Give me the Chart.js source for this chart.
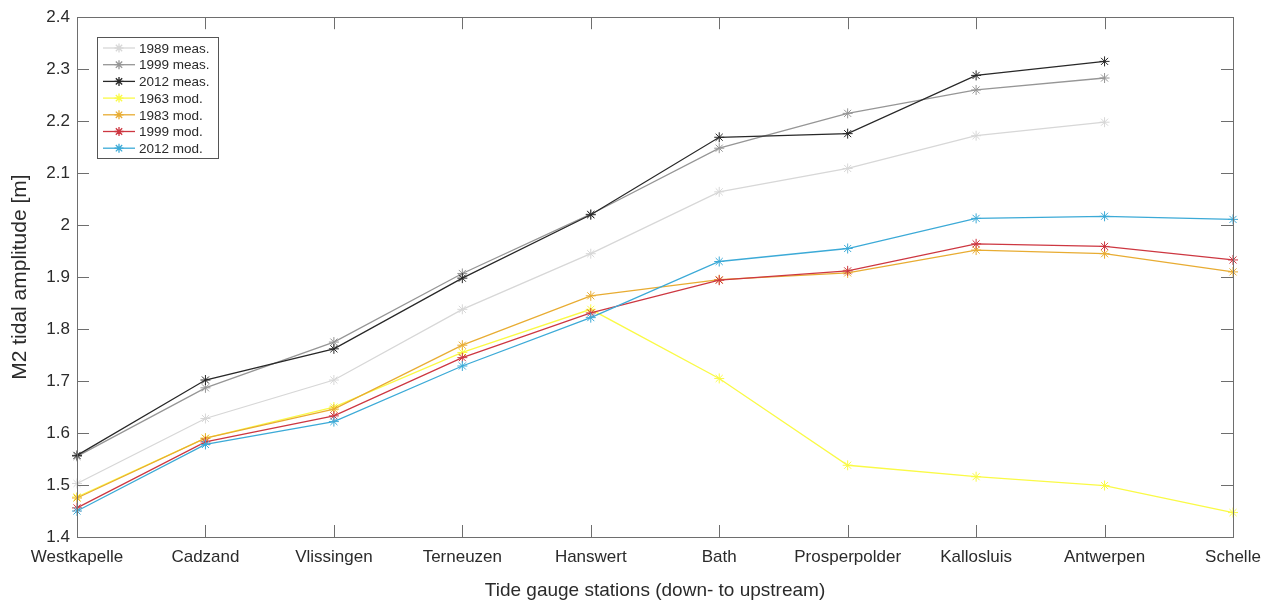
<!DOCTYPE html>
<html>
<head>
<meta charset="utf-8">
<script src="https://cdn.jsdelivr.net/npm/chart.js@4"></script>
<style>
  html, body { margin: 0; padding: 0; background: #fff; }
  #wrap { width: 1277px; height: 602px; }
</style>
</head>
<body>
<div id="wrap"><canvas id="tideChart"></canvas></div>
<script>
// Stationen (stroomafwaarts -> stroomopwaarts)
const stations = ["Westkapelle", "Cadzand", "Vlissingen", "Terneuzen", "Hanswert",
  "Bath", "Prosperpolder", "Kallosluis", "Antwerpen", "Schelle"];

// M2 amplitudes [m]
const meas1989 = [1.503, 1.628, 1.702, 1.838, 1.945, 2.064, 2.109, 2.172, 2.198, null];
const meas1999 = [1.555, 1.687, 1.775, 1.907, 2.021, 2.148, 2.215, 2.260, 2.283, null];
const meas2012 = [1.557, 1.702, 1.762, 1.898, 2.020, 2.169, 2.176, 2.288, 2.315, null];
const mod1963 = [1.477, 1.590, 1.650, 1.755, 1.838, 1.705, 1.538, 1.516, 1.499, 1.447];
const mod1983 = [1.475, 1.590, 1.646, 1.769, 1.864, 1.895, 1.908, 1.952, 1.945, 1.910];
const mod1999 = [1.456, 1.583, 1.633, 1.745, 1.831, 1.894, 1.912, 1.964, 1.959, 1.933];
const mod2012 = [1.450, 1.578, 1.622, 1.729, 1.822, 1.930, 1.955, 2.013, 2.017, 2.011];

const yTicks = [1.4, 1.5, 1.6, 1.7, 1.8, 1.9, 2.0, 2.1, 2.2, 2.3, 2.4];

const series = [
  { label: "1989 meas.", data: meas1989, color: "rgb(215,215,215)" },
  { label: "1999 meas.", data: meas1999, color: "rgb(150,150,150)" },
  { label: "2012 meas.", data: meas2012, color: "rgb(40,40,40)" },
  { label: "1963 mod.", data: mod1963, color: "rgb(250,250,70)" },
  { label: "1983 mod.", data: mod1983, color: "rgb(232,172,50)" },
  { label: "1999 mod.", data: mod1999, color: "rgb(205,55,65)" },
  { label: "2012 mod.", data: mod2012, color: "rgb(60,170,215)" },
];

const AXIS_COLOR = "#6e6e6e";
const TEXT_COLOR = "#2b2b2b";
const FONT = "'Liberation Sans', Arial, sans-serif";

// Rahmen, Ticks nach innen und Legende
const boxPlugin = {
  id: "boxPlugin",
  afterDraw(chart) {
    const ctx = chart.ctx;
    const a = chart.chartArea;
    const xs = chart.scales.x;
    const ys = chart.scales.y;
    ctx.save();
    ctx.strokeStyle = AXIS_COLOR;
    ctx.lineWidth = 1;
    ctx.strokeRect(Math.round(a.left) + 0.5, Math.round(a.top) + 0.5,
      Math.round(a.right - a.left), Math.round(a.bottom - a.top));
    const tl = 12;
    ctx.beginPath();
    xs.ticks.forEach((t, i) => {
      const x = Math.round(xs.getPixelForTick(i)) + 0.5;
      ctx.moveTo(x, a.bottom); ctx.lineTo(x, a.bottom - tl);
      ctx.moveTo(x, a.top); ctx.lineTo(x, a.top + tl);
    });
    ys.ticks.forEach((t, i) => {
      const y = Math.round(ys.getPixelForTick(i)) + 0.5;
      ctx.moveTo(a.left, y); ctx.lineTo(a.left + tl, y);
      ctx.moveTo(a.right, y); ctx.lineTo(a.right - tl, y);
    });
    ctx.stroke();

    // Legende
    const lx = 97, ly = 37, lw = 121, lh = 121;
    ctx.fillStyle = "#fff";
    ctx.fillRect(lx, ly, lw, lh);
    ctx.strokeStyle = "#555";
    ctx.strokeRect(lx + 0.5, ly + 0.5, lw, lh);
    ctx.font = "13.5px " + FONT;
    ctx.textBaseline = "middle";
    chart.data.datasets.forEach((ds, i) => {
      const y = ly + 11 + i * 16.7;
      ctx.strokeStyle = ds.borderColor;
      ctx.lineWidth = 1.3;
      ctx.beginPath();
      ctx.moveTo(lx + 6, y); ctx.lineTo(lx + 38, y);
      ctx.stroke();
      Chart.helpers.drawPoint(ctx, { pointStyle: "star", radius: 4.5, borderWidth: 1, rotation: 0 }, lx + 22, y);
      ctx.fillStyle = TEXT_COLOR;
      ctx.fillText(ds.label, lx + 42, y + 1);
    });
    ctx.restore();
  },
};

const datasets = series.map((s, i) => ({
  label: s.label,
  data: s.data,
  borderColor: s.color,
  backgroundColor: s.color,
  borderWidth: 1.3,
  pointStyle: "star",
  pointRadius: 5,
  pointBorderWidth: 1,
  pointBorderColor: s.color,
  tension: 0,
  spanGaps: false,
  order: series.length - i,
}));

new Chart(document.getElementById("tideChart"), {
  type: "line",
  data: { labels: stations, datasets: datasets },
  options: {
    responsive: true,
    maintainAspectRatio: false,
    animation: false,
    layout: { padding: { top: 17, right: 44, left: 0, bottom: 0 } },
    plugins: {
      legend: { display: false },
      tooltip: { enabled: false },
    },
    scales: {
      x: {
        offset: false,
        grid: { display: false, drawTicks: false },
        border: { display: false },
        ticks: {
          color: TEXT_COLOR,
          font: { size: 17, family: FONT },
          maxRotation: 0,
          autoSkip: false,
          padding: 10,
        },
        title: {
          display: true,
          text: "Tide gauge stations (down- to upstream)",
          color: TEXT_COLOR,
          font: { size: 19, family: FONT },
          padding: { top: 10, bottom: 0 },
        },
        afterFit(scale) { scale.height = 65; },
      },
      y: {
        min: 1.4,
        max: 2.4,
        grid: { display: false, drawTicks: false },
        border: { display: false },
        afterBuildTicks(scale) { scale.ticks = yTicks.map(v => ({ value: v })); },
        ticks: {
          color: TEXT_COLOR,
          font: { size: 17, family: FONT },
          padding: 7,
          callback: (v) => String(Number(v.toFixed(1))),
        },
        title: {
          display: true,
          text: "M2 tidal amplitude [m]",
          color: TEXT_COLOR,
          font: { size: 21, family: FONT },
          padding: { top: 8, bottom: 0 },
        },
        afterFit(scale) { scale.width = 77; },
      },
    },
  },
  plugins: [boxPlugin],
});
</script>
</body>
</html>
